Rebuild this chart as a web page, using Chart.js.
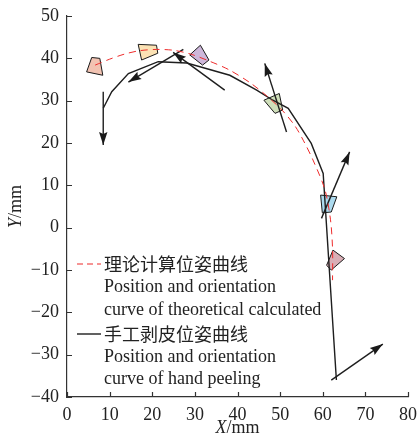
<!DOCTYPE html>
<html>
<head>
<meta charset="utf-8">
<script src="https://cdn.jsdelivr.net/npm/chart.js@4/dist/chart.umd.min.js"></script>
<style>
  html, body { margin: 0; padding: 0; background: #fff; }
  canvas { display: block; }
</style>
</head>
<body>
<canvas id="chart" width="417" height="443"></canvas>
<script>
// theoretical calculated pose curve (red dashed)
const theoryX = [6.6, 10, 13.5, 17, 21, 25, 29, 33.5, 38, 43, 47, 50.6, 53.5, 55.5, 57.7, 60.5, 61.8, 62.3, 62.3];
const theoryY = [38.4, 39.8, 41, 41.8, 42.1, 41.9, 41, 39.3, 37.3, 34.2, 31, 27.6, 24, 20.5, 16, 9, 2, -5, -12.4];

// hand peeling pose curve (black)
const peelX = [8.5, 10.5, 14.4, 21.4, 28.1, 38.2, 44.5, 48.3, 51.9, 57.3, 60.1, 63.2];
const peelY = [28.2, 32.1, 36.4, 39.2, 38.9, 36, 32.5, 30.1, 28.2, 19.9, 12.8, -36];

// orientation arrows: [x0, y0, x1, y1] (x1,y1 = arrow tip)
const arrows = [
  [8.5, 32.1, 8.5, 19.5],
  [27.3, 42.1, 14.4, 34.4],
  [37, 32.5, 24.9, 41.4],
  [51.5, 22.6, 46.4, 38.8],
  [59.7, 2.2, 66.3, 17.9],
  [62, -36, 74.1, -27.5]
];

// pose markers (quadrilaterals)
const quadPink   = [[4.6, 36.8], [5.8, 40.2], [7.7, 40], [8.4, 36.0]];
const quadCream  = [[16.7, 43.3], [21, 43.1], [21.3, 41.2], [17.5, 39.6]];
const quadPurple = [[28.8, 40.8], [31.3, 43.1], [33.3, 39.6], [31.8, 38.4]];
const quadGreen  = [[46.2, 30.1], [49.8, 31.7], [50.6, 27.8], [48.8, 27]];
const quadBlue   = [[59.5, 7.7], [63.3, 7.3], [62, 3.7], [59.9, 3.5]];
const quadMauve  = [[60.9, -8.9], [62.4, -5.3], [65.1, -7.3], [62, -10]];
const quadColors = ['#f2c3b2', '#fbe2b4', '#cdb7da', '#cfdfba', '#acdaee', '#d9aeb6'];

const legendTheory = ['理论计算位姿曲线', 'Position and orientation', 'curve of theoretical calculated'];
const legendPeel = ['手工剥皮位姿曲线', 'Position and orientation', 'curve of hand peeling'];

const SERIF = '"Liberation Serif", "Times New Roman", serif';
const CJK = '"Noto Sans CJK SC", sans-serif';

const toPts = (xs, ys) => xs.map((x, i) => ({ x, y: ys[i] }));

const datasets = [
  {
    data: toPts(theoryX, theoryY),
    showLine: true, borderColor: '#ee2b2b', borderWidth: 1, borderDash: [7, 5],
    pointRadius: 0, tension: 0.3
  },
  {
    data: toPts(peelX, peelY),
    showLine: true, borderColor: '#1e1e1e', borderWidth: 1.4,
    pointRadius: 0, tension: 0
  }
];

for (const a of arrows) {
  datasets.push({
    data: [{ x: a[0], y: a[1] }, { x: a[2], y: a[3] }],
    showLine: true, borderColor: '#1e1e1e', borderWidth: 1.4,
    pointRadius: 0, arrow: true
  });
}

[quadPink, quadCream, quadPurple, quadGreen, quadBlue, quadMauve].forEach((q, i) => {
  const pts = q.concat([q[0]]).map(p => ({ x: p[0], y: p[1] }));
  datasets.push({
    data: pts,
    showLine: true, borderColor: '#1a1a1a', borderWidth: 1,
    backgroundColor: quadColors[i], fill: 'shape',
    pointRadius: 0, tension: 0
  });
});

const decor = {
  id: 'decor',
  afterDatasetsDraw(chart) {
    const ctx = chart.ctx;
    ctx.save();
    chart.data.datasets.forEach((ds, i) => {
      if (!ds.arrow) return;
      const pts = chart.getDatasetMeta(i).data;
      const p0 = pts[0], p1 = pts[1];
      const ang = Math.atan2(p1.y - p0.y, p1.x - p0.x);
      const c = Math.cos(ang), s = Math.sin(ang);
      const L = 13, W = 4.2;
      ctx.beginPath();
      ctx.moveTo(p1.x, p1.y);
      ctx.lineTo(p1.x - L * c + W * s, p1.y - L * s - W * c);
      ctx.lineTo(p1.x - L * c * 0.85, p1.y - L * s * 0.85);
      ctx.lineTo(p1.x - L * c - W * s, p1.y - L * s + W * c);
      ctx.closePath();
      ctx.fillStyle = '#1a1a1a';
      ctx.fill();
    });
    ctx.restore();
  },
  afterDraw(chart) {
    const { ctx, chartArea: a, scales: { x, y } } = chart;
    ctx.save();

    // inner tick marks
    ctx.strokeStyle = '#333';
    ctx.lineWidth = 1.2;
    ctx.beginPath();
    x.ticks.forEach(t => {
      const px = Math.round(x.getPixelForValue(t.value)) + 0.5;
      ctx.moveTo(px, a.bottom);
      ctx.lineTo(px, a.bottom - 5);
    });
    y.ticks.forEach(t => {
      const py = Math.round(y.getPixelForValue(t.value)) + 0.5;
      ctx.moveTo(a.left, py);
      ctx.lineTo(a.left + 5, py);
    });
    ctx.stroke();

    // axis titles: italic letter + "/mm"
    ctx.fillStyle = '#222';
    ctx.textBaseline = 'middle';
    const title = (letter, cx, cy, rot) => {
      ctx.save();
      ctx.translate(cx, cy);
      ctx.rotate(rot);
      ctx.font = 'italic 18px ' + SERIF;
      const w1 = ctx.measureText(letter).width;
      ctx.font = '18px ' + SERIF;
      const w2 = ctx.measureText('/mm').width;
      let sx = -(w1 + w2) / 2;
      ctx.textAlign = 'left';
      ctx.font = 'italic 18px ' + SERIF;
      ctx.fillText(letter, sx, 0);
      ctx.font = '18px ' + SERIF;
      ctx.fillText('/mm', sx + w1, 0);
      ctx.restore();
    };
    title('X', (a.left + a.right) / 2, 428, 0);
    title('Y', 16, (a.top + a.bottom) / 2, -Math.PI / 2);

    // legend
    const lx = a.left + 10, tx = a.left + 37;
    const rows = [264, 287.5, 310, 334, 357, 379];
    ctx.lineWidth = 1.2;
    ctx.strokeStyle = '#ee2b2b';
    ctx.setLineDash([6, 4]);
    ctx.beginPath(); ctx.moveTo(lx, rows[0]); ctx.lineTo(lx + 24, rows[0]); ctx.stroke();
    ctx.setLineDash([]);
    ctx.strokeStyle = '#1e1e1e';
    ctx.lineWidth = 1.4;
    ctx.beginPath(); ctx.moveTo(lx, rows[3]); ctx.lineTo(lx + 24, rows[3]); ctx.stroke();

    ctx.textAlign = 'left';
    const lines = legendTheory.concat(legendPeel);
    lines.forEach((t, i) => {
      ctx.font = (i % 3 === 0 ? '18px ' + CJK : '18px ' + SERIF);
      ctx.fillText(t, tx, rows[i]);
    });
    ctx.restore();
  }
};

const tickFont = { family: SERIF, size: 18 };
const minus = v => (v < 0 ? '\u2212' + Math.abs(v) : String(v));

new Chart(document.getElementById('chart'), {
  type: 'scatter',
  data: { datasets },
  options: {
    responsive: false,
    animation: false,
    layout: { padding: { top: 16, right: 9, left: 0, bottom: 0 } },
    plugins: { legend: { display: false }, tooltip: { enabled: false } },
    scales: {
      x: {
        min: 0, max: 80,
        ticks: { stepSize: 10, font: tickFont, color: '#222', padding: 7, maxRotation: 0, callback: minus },
        grid: { drawOnChartArea: false, drawTicks: false },
        border: { color: '#333', width: 1.2 },
        afterFit: s => { s.height = 46; s.paddingLeft = 0; s.paddingRight = 0; }
      },
      y: {
        min: -40, max: 50,
        ticks: { stepSize: 10, font: tickFont, color: '#222', padding: 8, callback: minus },
        grid: { drawOnChartArea: false, drawTicks: false },
        border: { color: '#333', width: 1.2 },
        afterFit: s => { s.width = 67; s.paddingTop = 0; s.paddingBottom = 0; }
      }
    }
  },
  plugins: [decor]
});
</script>
</body>
</html>
